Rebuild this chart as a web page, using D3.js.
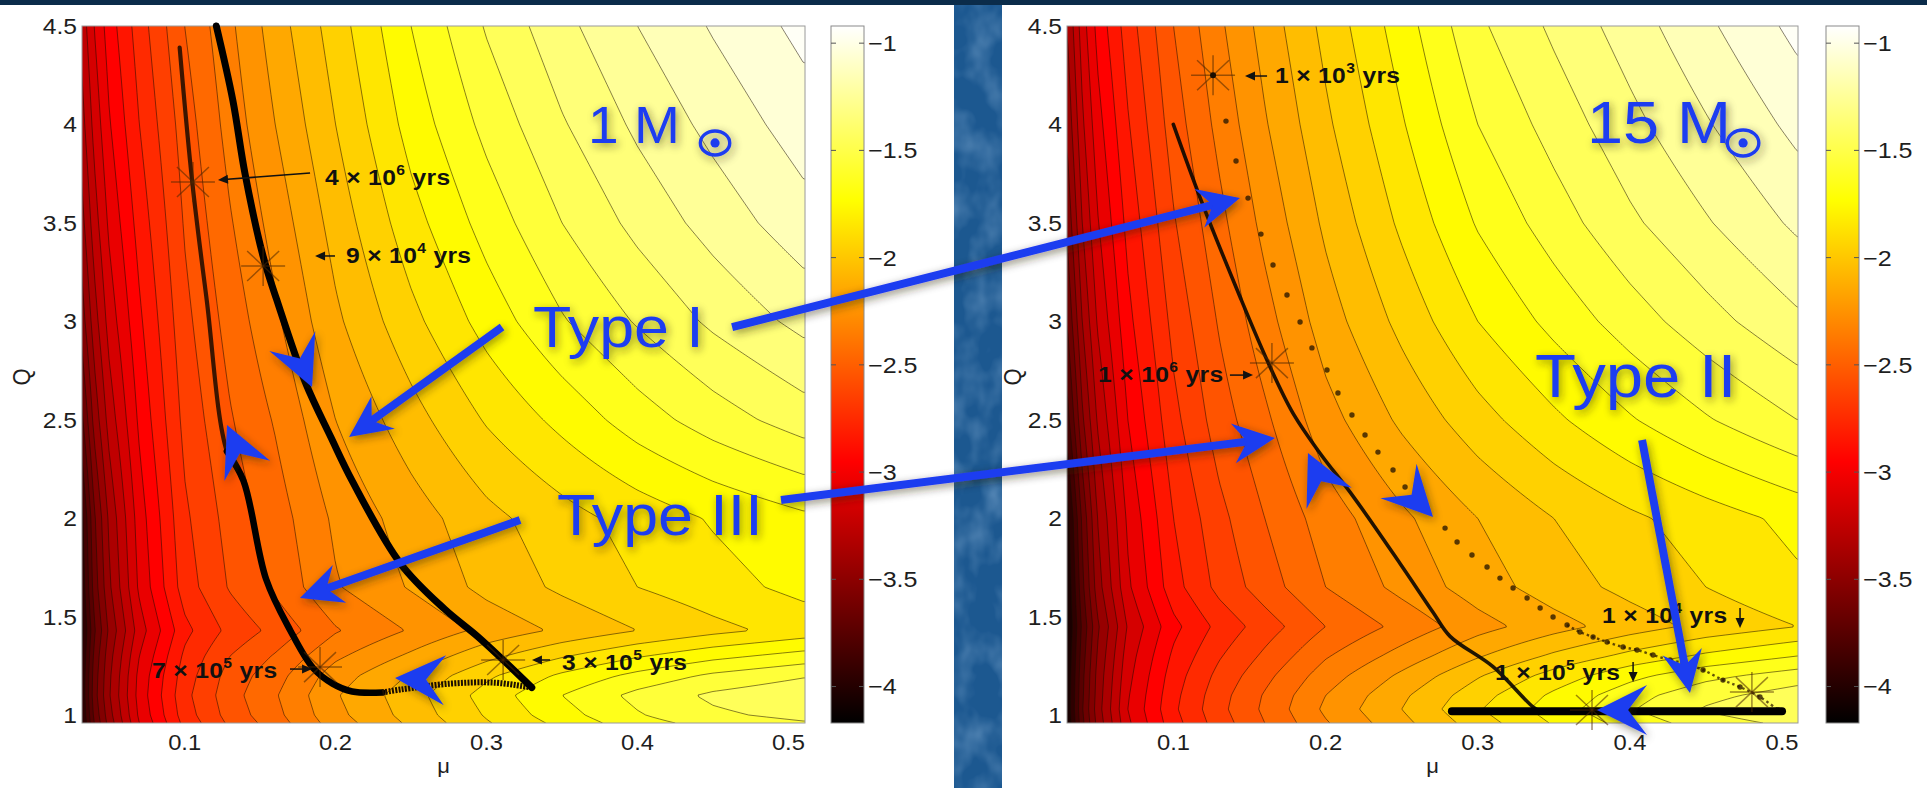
<!DOCTYPE html>
<html>
<head>
<meta charset="utf-8">
<script src="https://cdn.jsdelivr.net/npm/d3@7"></script>
<style>
  html, body { margin: 0; padding: 0; background: #fff; }
  svg { display: block; }
  text { font-family: "Liberation Sans", Arial, Helvetica, sans-serif; }
</style>
</head>
<body>
<svg id="chart" width="1927" height="788"></svg>
<script>
// ------------------------------------------------------------------
// Field values: log-scale quantity on a (mu, Q) grid, one table per star
// ------------------------------------------------------------------
const muGrid = [0.03, 0.04, 0.05, 0.07, 0.10, 0.13, 0.16, 0.20, 0.25, 0.30, 0.35, 0.40, 0.45, 0.51];

const qGrid1 = [4.5, 4.0, 3.5, 3.0, 2.5, 2.0, 1.65, 1.43, 1.3, 1.2, 1.1, 1.0, 0.96];
const field1 = [
  [-3.30, -3.10, -2.95, -2.75, -2.50, -2.32, -2.15, -1.95, -1.70, -1.49, -1.33, -1.20, -1.09, -0.97],
  [-3.38, -3.17, -3.01, -2.80, -2.55, -2.36, -2.20, -2.00, -1.76, -1.57, -1.41, -1.28, -1.17, -1.05],
  [-3.48, -3.25, -3.08, -2.86, -2.59, -2.41, -2.26, -2.06, -1.84, -1.66, -1.50, -1.37, -1.26, -1.14],
  [-3.60, -3.35, -3.16, -2.92, -2.63, -2.46, -2.32, -2.12, -1.93, -1.76, -1.61, -1.49, -1.38, -1.27],
  [-3.78, -3.47, -3.26, -2.98, -2.67, -2.51, -2.39, -2.20, -2.04, -1.89, -1.77, -1.65, -1.55, -1.45],
  [-4.00, -3.62, -3.38, -3.05, -2.72, -2.56, -2.45, -2.28, -2.15, -2.03, -1.94, -1.86, -1.79, -1.72],
  [-4.05, -3.66, -3.42, -3.08, -2.75, -2.59, -2.48, -2.31, -2.19, -2.07, -1.98, -1.90, -1.84, -1.77],
  [-4.10, -3.72, -3.48, -3.15, -2.83, -2.67, -2.57, -2.41, -2.29, -2.17, -2.08, -2.00, -1.93, -1.86],
  [-4.08, -3.68, -3.44, -3.10, -2.78, -2.60, -2.49, -2.32, -2.18, -2.03, -1.91, -1.81, -1.73, -1.66],
  [-4.06, -3.66, -3.42, -3.07, -2.75, -2.56, -2.44, -2.25, -2.09, -1.92, -1.78, -1.67, -1.58, -1.51],
  [-4.06, -3.65, -3.41, -3.06, -2.73, -2.54, -2.41, -2.21, -2.04, -1.86, -1.70, -1.57, -1.48, -1.42],
  [-4.08, -3.68, -3.44, -3.08, -2.75, -2.56, -2.43, -2.23, -2.06, -1.89, -1.74, -1.61, -1.52, -1.47],
  [-4.10, -3.70, -3.46, -3.10, -2.77, -2.58, -2.45, -2.25, -2.08, -1.91, -1.77, -1.64, -1.56, -1.51]
];

const qGrid15 = [4.5, 4.0, 3.5, 3.0, 2.5, 2.0, 1.65, 1.45, 1.3, 1.2, 1.1, 1.03, 0.96];
const field15 = [
  [-3.40, -3.15, -2.97, -2.75, -2.50, -2.32, -2.16, -1.97, -1.75, -1.52, -1.38, -1.25, -1.12, -0.97],
  [-3.48, -3.22, -3.04, -2.81, -2.55, -2.37, -2.21, -2.02, -1.81, -1.60, -1.46, -1.33, -1.21, -1.07],
  [-3.58, -3.30, -3.11, -2.87, -2.61, -2.43, -2.27, -2.08, -1.88, -1.69, -1.55, -1.42, -1.31, -1.18],
  [-3.70, -3.40, -3.19, -2.93, -2.67, -2.49, -2.34, -2.15, -1.97, -1.80, -1.67, -1.55, -1.44, -1.32],
  [-3.85, -3.52, -3.29, -3.00, -2.73, -2.55, -2.42, -2.24, -2.08, -1.94, -1.82, -1.71, -1.61, -1.50],
  [-4.05, -3.68, -3.40, -3.08, -2.80, -2.63, -2.50, -2.35, -2.22, -2.10, -2.00, -1.92, -1.85, -1.77],
  [-4.10, -3.73, -3.45, -3.12, -2.84, -2.67, -2.55, -2.40, -2.27, -2.15, -2.05, -1.97, -1.90, -1.82],
  [-4.12, -3.78, -3.52, -3.19, -2.93, -2.77, -2.65, -2.50, -2.37, -2.24, -2.14, -2.05, -1.97, -1.90],
  [-4.10, -3.75, -3.49, -3.15, -2.88, -2.71, -2.58, -2.41, -2.26, -2.11, -1.98, -1.87, -1.78, -1.70],
  [-4.09, -3.73, -3.47, -3.13, -2.85, -2.67, -2.53, -2.35, -2.18, -2.01, -1.86, -1.73, -1.63, -1.55],
  [-4.08, -3.72, -3.46, -3.11, -2.83, -2.64, -2.49, -2.30, -2.12, -1.94, -1.78, -1.64, -1.53, -1.45],
  [-4.08, -3.71, -3.45, -3.10, -2.82, -2.63, -2.48, -2.28, -2.10, -1.91, -1.75, -1.61, -1.49, -1.40],
  [-4.10, -3.73, -3.47, -3.12, -2.84, -2.65, -2.50, -2.31, -2.13, -1.95, -1.79, -1.66, -1.55, -1.47]
];

// tick labels
const muTicks = [0.1, 0.2, 0.3, 0.4, 0.5];
const qTicks = [1, 1.5, 2, 2.5, 3, 3.5, 4, 4.5];
const cbTicks = [-1, -1.5, -2, -2.5, -3, -3.5, -4];
const colorRange = [-4.17, -0.92];

// ------------------------------------------------------------------
// Evolution tracks (mu, Q)
// ------------------------------------------------------------------
// 1 Msun: inward Type I branch (thick)
const track1TypeI = [[0.121, 4.50], [0.132, 4.12], [0.140, 3.75], [0.152, 3.33], [0.161, 3.11],
  [0.180, 2.69], [0.197, 2.41], [0.211, 2.19], [0.243, 1.77], [0.272, 1.54], [0.294, 1.40],
  [0.311, 1.28], [0.330, 1.14]];
// 1 Msun: bottom branch back toward small mu
const track1Bottom = [[0.330, 1.14], [0.305, 1.165], [0.276, 1.16], [0.243, 1.13], [0.231, 1.115]];
// 1 Msun: Type III branch climbing in Q
const track1TypeIII = [[0.231, 1.115], [0.211, 1.12], [0.198, 1.16], [0.185, 1.24], [0.170, 1.43],
  [0.154, 1.69], [0.139, 2.19], [0.128, 2.34], [0.1146, 3.11], [0.105, 3.71], [0.0967, 4.39]];

// 15 Msun: solid branch climbing in Q
const track15Solid = [[0.341, 1.02], [0.3365, 1.04], [0.310, 1.246], [0.2818, 1.40], [0.2708, 1.52],
  [0.2489, 1.77], [0.2182, 2.11], [0.1963, 2.33], [0.1788, 2.53], [0.1634, 2.77], [0.1437, 3.125],
  [0.1174, 3.63], [0.0999, 4.0]];
// 15 Msun: dotted branch (sample positions)
const track15Dots = [[0.1345, 4.017], [0.1411, 3.814], [0.149, 3.626], [0.1575, 3.443], [0.1654, 3.286],
  [0.1746, 3.134], [0.1832, 2.997], [0.191, 2.865], [0.2009, 2.753], [0.2081, 2.636], [0.2173, 2.524],
  [0.2259, 2.423], [0.2344, 2.336], [0.2443, 2.245], [0.2522, 2.159], [0.2607, 2.077], [0.2785, 1.95],
  [0.2864, 1.879], [0.2962, 1.813], [0.3061, 1.752], [0.3146, 1.696], [0.3232, 1.646], [0.3324, 1.595],
  [0.341, 1.544], [0.3495, 1.498], [0.3587, 1.458], [0.3672, 1.422], [0.3758, 1.397], [0.385, 1.371],
  [0.3955, 1.346], [0.4047, 1.331], [0.4152, 1.305], [0.4264, 1.28], [0.4349, 1.265], [0.4481, 1.229],
  [0.4612, 1.178], [0.4724, 1.143], [0.4855, 1.092], [0.4974, 1.026]];
// 15 Msun: thick branch along the bottom
const track15Bottom = [[0.283, 1.02], [0.500, 1.02]];

// time markers (mu, Q)
const stars1 = [[0.1055, 3.708], [0.152, 3.281], [0.1897, 1.244], [0.311, 1.28]];
const stars15 = [[0.126, 4.25], [0.1647, 2.788], [0.3751, 1.026], [0.4802, 1.117]];

// time labels: mantissa/exponent, text anchor (mu, Q), pointer from -> to
const stampText1 = [["4", "6"], ["9", "4"], ["7", "5"], ["3", "5"]];
const stampPos1 = [[0.193, 3.692], [0.2069, 3.296], [0.0784, 1.189], [0.350, 1.229]];
const stampArrow1 = [[[0.1831, 3.753], [0.1221, 3.718]], [[0.1996, 3.332], [0.1864, 3.332]],
  [[0.1698, 1.234], [0.1844, 1.234]], [[0.3421, 1.28], [0.3301, 1.28]]];
const stampText15 = [["1", "3"], ["1", "6"], ["1", "5"], ["1", "4"]];
const stampPos15 = [[0.1667, 4.21], [0.0504, 2.692], [0.3113, 1.178], [0.3817, 1.468]];
const stampArrow15 = [[[0.1615, 4.246], [0.147, 4.246]], [[0.1371, 2.727], [0.1523, 2.727]],
  [[0.4021, 1.27], [0.4021, 1.168]], [[0.4724, 1.544], [0.4724, 1.442]]];

// direction heads on the tracks: [tip, back]
const heads1 = [[[0.1844, 2.666], [0.1764, 2.809]], [[0.1281, 2.473], [0.136, 2.336]],
  [[0.2394, 1.189], [0.2692, 1.178]]];
const heads15 = [[[0.1884, 2.331], [0.1976, 2.179]], [[0.2706, 2.006], [0.2555, 2.128]],
  [[0.3784, 1.026], [0.4047, 1.026]]];

// migration-type callouts
const typeLabels = [["p1", "Type I", 0.3308, 2.870, 57], ["p1", "Type III", 0.3467, 1.915, 57],
  ["p15", "Type II", 0.3376, 2.616, 61]];
const typePointers = [
  [["p1", 0.3103, 2.971], ["p1", 0.2089, 2.4125]],
  [["p1", 0.4627, 2.971], ["p15", 0.1437, 3.626]],
  [["p1", 0.3222, 1.991], ["p1", 0.1764, 1.595]],
  [["p1", 0.4951, 2.093], ["p15", 0.1667, 2.407]],
  [["p15", 0.408, 2.397], ["p15", 0.4395, 1.112]]
];
const massLabels = [["p1", "1", 0.3673, 3.906, 51, 0.4514, 14], ["p15", "15", 0.3718, 3.906, 60, 0.4744, 15]];

// ------------------------------------------------------------------
const svg = d3.select("#chart");
const defs = svg.append("defs");
const blue = "#1f3cf0";
const ink = "#1e1e1e";

// page backdrop
svg.append("rect").attr("width", 1927).attr("height", 788).attr("fill", "#fff");
const noise = defs.append("filter").attr("id", "mottle").attr("filterUnits", "userSpaceOnUse")
  .attr("x", 950).attr("y", 0).attr("width", 60).attr("height", 788);
noise.append("feTurbulence").attr("type", "fractalNoise").attr("baseFrequency", "0.035 0.025")
  .attr("numOctaves", 3).attr("seed", 11).attr("result", "n");
noise.append("feColorMatrix").attr("in", "n").attr("type", "matrix")
  .attr("values", "0 0 0 0 0.36  0 0 0 0 0.56  0 0 0 0 0.80  0 0 0 1.4 -0.55").attr("result", "c");
noise.append("feComposite").attr("in", "c").attr("in2", "SourceGraphic").attr("operator", "in");
svg.append("rect").attr("x", 954).attr("y", 0).attr("width", 48).attr("height", 788).attr("fill", "#1c5890");
svg.append("rect").attr("x", 954).attr("y", 0).attr("width", 48).attr("height", 788).attr("fill", "#fff")
  .attr("opacity", 0.55).attr("filter", "url(#mottle)");
svg.append("rect").attr("x", 0).attr("y", 0).attr("width", 1927).attr("height", 5).attr("fill", "#0b2c4a");

// soft shadow used by the blue callouts
const glow = defs.append("filter").attr("id", "glow").attr("filterUnits", "userSpaceOnUse")
  .attr("x", 0).attr("y", 0).attr("width", 1927).attr("height", 788);
glow.append("feGaussianBlur").attr("in", "SourceAlpha").attr("stdDeviation", 4).attr("result", "b");
glow.append("feOffset").attr("in", "b").attr("dx", 2).attr("dy", 3).attr("result", "o");
glow.append("feFlood").attr("flood-color", "#2a2400").attr("flood-opacity", 0.5);
glow.append("feComposite").attr("in2", "o").attr("operator", "in").attr("result", "s");
const gm = glow.append("feMerge");
gm.append("feMergeNode").attr("in", "s");
gm.append("feMergeNode").attr("in", "SourceGraphic");

// MATLAB-style "hot" colormap
function hot(v) {
  const t = Math.max(0, Math.min(1, (v - colorRange[0]) / (colorRange[1] - colorRange[0])));
  const r = Math.min(1, t / 0.375);
  const g = Math.max(0, Math.min(1, (t - 0.375) / 0.375));
  const b = Math.max(0, Math.min(1, (t - 0.75) / 0.25));
  return d3.rgb(r * 255, g * 255, b * 255).formatHex();
}

function sampler(qGrid, field) {
  return (mu, q) => {
    let i = d3.bisectRight(muGrid, mu) - 1;
    i = Math.max(0, Math.min(muGrid.length - 2, i));
    const tx = Math.max(0, Math.min(1, (mu - muGrid[i]) / (muGrid[i + 1] - muGrid[i])));
    let j = 0;
    while (j < qGrid.length - 2 && q < qGrid[j + 1]) j++;
    const ty = Math.max(0, Math.min(1, (qGrid[j] - q) / (qGrid[j] - qGrid[j + 1])));
    const a = field[j][i], b = field[j][i + 1], c = field[j + 1][i], d = field[j + 1][i + 1];
    return a * (1 - tx) * (1 - ty) + b * tx * (1 - ty) + c * (1 - tx) * ty + d * tx * ty;
  };
}

// text stretched horizontally (the slide was widened)
function wideText(g, x, y, sx) {
  return g.append("text").attr("transform", `translate(${x},${y}) scale(${sx},1)`);
}

const levels = d3.range(-42, -8).map(v => v / 10);

const panels = [
  { id: "p1", x0: 82, x1: 805, y0: 26, y1: 723, mu: [0.032, 0.511], qGrid: qGrid1, field: field1,
    cbx: 831, tickX: 77, qLabelX: 21 },
  { id: "p15", x0: 1067, x1: 1798, y0: 26, y1: 723, mu: [0.03, 0.5105], qGrid: qGrid15, field: field15,
    cbx: 1826, tickX: 1062, qLabelX: 1012 }
];
const scales = {};

panels.forEach(p => {
  const x = d3.scaleLinear().domain(p.mu).range([p.x0, p.x1]);
  const y = d3.scaleLinear().domain([0.96, 4.5]).range([p.y1, p.y0]);
  scales[p.id] = { x, y };
  const g = svg.append("g");

  defs.append("clipPath").attr("id", "clip-" + p.id).append("rect")
    .attr("x", p.x0).attr("y", p.y0).attr("width", p.x1 - p.x0).attr("height", p.y1 - p.y0);

  // sample the field on a fine pixel lattice slightly larger than the axes
  const step = 2, pad = 6;
  const X0 = p.x0 - pad, Y0 = p.y0 - pad;
  const nx = Math.ceil((p.x1 - p.x0 + 2 * pad) / step);
  const ny = Math.ceil((p.y1 - p.y0 + 2 * pad) / step);
  const f = sampler(p.qGrid, p.field);
  const values = new Float64Array(nx * ny);
  for (let j = 0; j < ny; j++) {
    const q = y.invert(Y0 + (j + 0.5) * step);
    for (let i = 0; i < nx; i++) {
      values[j * nx + i] = f(x.invert(X0 + (i + 0.5) * step), q);
    }
  }
  const contours = d3.contours().size([nx, ny]).thresholds(levels)(values);
  const path = d3.geoPath(d3.geoTransform({
    point(cx, cy) { this.stream.point(X0 + cx * step, Y0 + cy * step); }
  }));

  const plot = g.append("g").attr("clip-path", `url(#clip-${p.id})`);
  plot.append("rect").attr("x", p.x0).attr("y", p.y0).attr("width", p.x1 - p.x0)
    .attr("height", p.y1 - p.y0).attr("fill", hot(-4.2));
  plot.selectAll("path.band").data(contours).join("path").attr("class", "band")
    .attr("d", path).attr("fill", d => hot(d.value + 0.05));
  plot.selectAll("path.iso").data(contours).join("path").attr("class", "iso")
    .attr("d", path).attr("fill", "none").attr("stroke", "#1a0c00")
    .attr("stroke-opacity", 0.55).attr("stroke-width", 0.95);

  // frame
  g.append("rect").attr("x", p.x0).attr("y", p.y0).attr("width", p.x1 - p.x0)
    .attr("height", p.y1 - p.y0).attr("fill", "none").attr("stroke", "#9a9a9a").attr("stroke-width", 1);

  // axis tick labels
  muTicks.forEach(d => wideText(g, x(d), 750, 1.08).attr("text-anchor", "middle")
    .attr("font-size", 22).attr("fill", ink).text(d3.format(".1f")(d)));
  qTicks.forEach(d => wideText(g, p.tickX, y(d), 1.12).attr("dy", "0.36em").attr("text-anchor", "end")
    .attr("font-size", 22).attr("fill", ink).text(String(d)));
  wideText(g, (p.x0 + p.x1) / 2, 773, 1.1).attr("text-anchor", "middle")
    .attr("font-size", 20).attr("fill", ink).text("μ");
  g.append("text").attr("transform", `translate(${p.qLabelX},377) rotate(-90) scale(1,1.1)`)
    .attr("text-anchor", "middle").attr("dy", "0.36em").attr("font-size", 22).attr("fill", ink).text("Q");

  // colour bar
  const cy = d3.scaleLinear().domain(colorRange).range([p.y1, p.y0]);
  const gid = "cbgrad-" + p.id;
  const grad = defs.append("linearGradient").attr("id", gid).attr("x1", 0).attr("y1", 1).attr("x2", 0).attr("y2", 0);
  d3.range(0, 1.0001, 0.025).forEach(t => {
    grad.append("stop").attr("offset", t)
      .attr("stop-color", hot(colorRange[0] + t * (colorRange[1] - colorRange[0])));
  });
  g.append("rect").attr("x", p.cbx).attr("y", p.y0).attr("width", 33).attr("height", p.y1 - p.y0)
    .attr("fill", `url(#${gid})`).attr("stroke", "#8a8a8a").attr("stroke-width", 1);
  cbTicks.forEach(v => {
    g.append("line").attr("x1", p.cbx).attr("x2", p.cbx + 5).attr("y1", cy(v)).attr("y2", cy(v))
      .attr("stroke", "#555").attr("stroke-width", 1);
    g.append("line").attr("x1", p.cbx + 28).attr("x2", p.cbx + 33).attr("y1", cy(v)).attr("y2", cy(v))
      .attr("stroke", "#555").attr("stroke-width", 1);
    wideText(g, p.cbx + 37, cy(v), 1.14).attr("dy", "0.36em")
      .attr("font-size", 22).attr("fill", ink).text(d3.format("~g")(v));
  });
});

const L1 = scales.p1, L15 = scales.p15;
const pt = (s, d) => [s.x(d[0]), s.y(d[1])];
const at = (id, mu, q) => [scales[id].x(mu), scales[id].y(q)];
const tracks = svg.append("g");
const curve = d3.line().curve(d3.curveCatmullRom.alpha(0.5));

// 1 Msun tracks
tracks.append("path").attr("d", curve(track1TypeIII.map(d => pt(L1, d))))
  .attr("fill", "none").attr("stroke", "#1a0a00").attr("stroke-width", 4.2)
  .attr("stroke-opacity", 0.85).attr("stroke-linecap", "round");
tracks.append("path").attr("d", curve(track1TypeIII.filter(d => d[1] < 2.4).map(d => pt(L1, d))))
  .attr("fill", "none").attr("stroke", "#000").attr("stroke-width", 6.5).attr("stroke-linecap", "round");
tracks.append("path").attr("d", curve(track1Bottom.map(d => pt(L1, d))))
  .attr("fill", "none").attr("stroke", "#1c0e00").attr("stroke-width", 6)
  .attr("stroke-dasharray", "2 1.3");
tracks.append("path").attr("d", curve(track1TypeI.map(d => pt(L1, d))))
  .attr("fill", "none").attr("stroke", "#000").attr("stroke-width", 7).attr("stroke-linecap", "round");

// 15 Msun tracks
tracks.append("path").attr("d", curve(track15Solid.map(d => pt(L15, d))))
  .attr("fill", "none").attr("stroke", "#0a0500").attr("stroke-width", 3.6)
  .attr("stroke-opacity", 0.9).attr("stroke-linecap", "round");
tracks.selectAll("circle.dot").data(track15Dots).join("circle").attr("class", "dot")
  .attr("cx", d => L15.x(d[0])).attr("cy", d => L15.y(d[1])).attr("r", 2.7)
  .attr("fill", "#2e1a00").attr("fill-opacity", 0.8);
tracks.append("path").attr("d", curve(track15Dots.filter(d => d[1] < 1.47).map(d => pt(L15, d))))
  .attr("fill", "none").attr("stroke", "#2e1a00").attr("stroke-width", 2.4)
  .attr("stroke-dasharray", "2.5 3").attr("stroke-opacity", 0.75);
tracks.append("path").attr("d", d3.line()(track15Bottom.map(d => pt(L15, d))))
  .attr("fill", "none").attr("stroke", "#000").attr("stroke-width", 8).attr("stroke-linecap", "round");

// asterisk time markers
function asterisk(g, c, dark) {
  const arms = [[22, 0], [0, 20], [16, 15], [16, -15]];
  arms.forEach(a => g.append("line").attr("x1", c[0] - a[0]).attr("y1", c[1] - a[1])
    .attr("x2", c[0] + a[0]).attr("y2", c[1] + a[1]).attr("stroke", "#4a2600")
    .attr("stroke-opacity", 0.55).attr("stroke-width", 1.5));
  if (dark) g.append("circle").attr("cx", c[0]).attr("cy", c[1]).attr("r", 3).attr("fill", "#1a0d00");
}
stars1.forEach(d => asterisk(tracks, pt(L1, d), false));
stars15.forEach((d, i) => asterisk(tracks, pt(L15, d), i === 0));

// time labels
function smallArrow(g, a, b) {
  const dx = b[0] - a[0], dy = b[1] - a[1], dd = Math.hypot(dx, dy), ux = dx / dd, uy = dy / dd;
  const L = 10, W = 4.5;
  g.append("line").attr("x1", a[0]).attr("y1", a[1]).attr("x2", b[0] - ux * 6).attr("y2", b[1] - uy * 6)
    .attr("stroke", "#111").attr("stroke-width", 1.5);
  g.append("path").attr("d", `M${b[0]},${b[1]}L${b[0] - ux * L - uy * W},${b[1] - uy * L + ux * W}` +
    `L${b[0] - ux * L + uy * W},${b[1] - uy * L - ux * W}Z`).attr("fill", "#111");
}
function stamp(g, s, txt, pos, arr) {
  const p = pt(s, pos);
  const t = wideText(g, p[0], p[1], 1.12).attr("font-size", 22)
    .attr("font-weight", "bold").attr("letter-spacing", 0.3).attr("fill", "#111");
  t.append("tspan").text(`${txt[0]} × 10`);
  t.append("tspan").attr("dy", -10).attr("font-size", 14).text(txt[1]);
  t.append("tspan").attr("dy", 10).text(" yrs");
  smallArrow(g, pt(s, arr[0]), pt(s, arr[1]));
}
const labels = svg.append("g");
stampText1.forEach((t, i) => stamp(labels, L1, t, stampPos1[i], stampArrow1[i]));
stampText15.forEach((t, i) => stamp(labels, L15, t, stampPos15[i], stampArrow15[i]));

// blue callouts
const callouts = svg.append("g").attr("filter", "url(#glow)");
function headPath(tip, back, L, W, N) {
  const dx = tip[0] - back[0], dy = tip[1] - back[1], dd = Math.hypot(dx, dy);
  const ux = dx / dd, uy = dy / dd, px = -uy, py = ux;
  const bx = tip[0] - ux * L, by = tip[1] - uy * L;
  const nx = tip[0] - ux * N, ny = tip[1] - uy * N;
  return `M${tip[0]},${tip[1]}L${bx + px * W},${by + py * W}L${nx},${ny}L${bx - px * W},${by - py * W}Z`;
}
heads1.forEach(h => callouts.append("path").attr("d", headPath(pt(L1, h[0]), pt(L1, h[1]), 50, 25, 31)).attr("fill", blue));
heads15.forEach(h => callouts.append("path").attr("d", headPath(pt(L15, h[0]), pt(L15, h[1]), 50, 25, 31)).attr("fill", blue));

typePointers.forEach(([from, to]) => {
  const a = at(...from), b = at(...to);
  const dx = b[0] - a[0], dy = b[1] - a[1], dd = Math.hypot(dx, dy);
  const N = 26;
  callouts.append("line").attr("x1", a[0]).attr("y1", a[1])
    .attr("x2", b[0] - dx / dd * N).attr("y2", b[1] - dy / dd * N)
    .attr("stroke", blue).attr("stroke-width", 8);
  callouts.append("path").attr("d", headPath(b, a, 42, 20, 28)).attr("fill", blue);
});

typeLabels.forEach(([id, txt, mu, q, fs]) => {
  const p = at(id, mu, q);
  wideText(callouts, p[0], p[1], 1.1).attr("font-size", fs).attr("fill", blue).text(txt);
});
massLabels.forEach(([id, txt, mu, q, fs, sunMu, r]) => {
  const p = at(id, mu, q);
  wideText(callouts, p[0], p[1], 1.08).attr("font-size", fs).attr("fill", blue).text(`${txt} M`);
  const c = at(id, sunMu, q);
  callouts.append("ellipse").attr("cx", c[0]).attr("cy", c[1]).attr("rx", r * 1.05).attr("ry", r - 2)
    .attr("fill", "none").attr("stroke", blue).attr("stroke-width", 3.4);
  callouts.append("circle").attr("cx", c[0]).attr("cy", c[1]).attr("r", 4.6).attr("fill", blue);
});
</script>
</body>
</html>
